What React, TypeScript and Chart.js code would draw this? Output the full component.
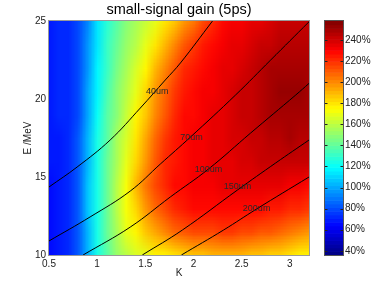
import React, { useEffect, useRef } from 'react';
import { Chart, registerables } from 'chart.js';

Chart.register(...registerables);

const FONT = "'Liberation Sans', Arial, Helvetica, sans-serif";

// Grid axes of the heat map
const kValues = [0.5, 0.6, 0.7, 0.8, 0.9, 1.0, 1.1, 1.2, 1.3, 1.4, 1.5, 1.6, 1.7, 1.8, 1.9, 2.0, 2.1, 2.2, 2.3, 2.4, 2.5, 2.6, 2.7, 2.8, 2.9, 3.0, 3.1, 3.2];
const eValues = [10, 11.5, 13, 14.5, 16, 17.5, 19, 20.5, 22, 23.5, 25];

// Small-signal gain (%) per E row, one value per K column
const gainE10 = [66, 68, 71, 82, 104, 124, 140, 152, 160, 166, 171, 175, 178, 181, 184, 186, 188, 189, 190, 190, 189, 188, 186, 184, 182, 180, 178, 176];
const gainE11_5 = [66, 68, 72, 83, 105, 125, 142, 157, 168, 178, 187, 195, 201, 206, 210, 213, 215, 216, 217, 217, 216, 214, 212, 210, 207, 204, 201, 198];
const gainE13 = [67, 69, 72, 84, 106, 126, 143, 159, 172, 185, 198, 208, 216, 221, 225, 227, 228, 229, 229, 229, 229, 228, 227, 226, 224, 222, 220, 218];
const gainE14_5 = [67, 69, 73, 84, 106, 126, 143, 159, 174, 189, 203, 214, 222, 227, 230, 231, 232, 233, 234, 234, 235, 235, 235, 235, 234, 233, 232, 230];
const gainE16 = [68, 70, 73, 83, 105, 125, 142, 157, 171, 185, 199, 211, 220, 226, 230, 232, 233, 234, 235, 237, 238, 240, 241, 242, 243, 243, 243, 242];
const gainE17_5 = [68, 70, 73, 82, 103, 123, 140, 154, 167, 180, 194, 207, 217, 225, 229, 231, 233, 234, 236, 238, 240, 242, 244, 246, 247, 248, 247, 246];
const gainE19 = [69, 71, 74, 81, 101, 121, 137, 150, 162, 175, 188, 201, 212, 221, 227, 230, 232, 234, 236, 238, 241, 244, 247, 249, 251, 251, 250, 249];
const gainE20_5 = [69, 71, 74, 80, 99, 119, 134, 147, 158, 170, 183, 196, 208, 218, 225, 229, 231, 233, 235, 238, 241, 244, 247, 250, 252, 253, 252, 250];
const gainE22 = [70, 72, 74, 80, 97, 117, 133, 144, 154, 165, 177, 189, 201, 212, 220, 226, 229, 231, 234, 237, 240, 243, 246, 248, 250, 251, 250, 249];
const gainE23_5 = [70, 72, 74, 79, 95, 115, 131, 142, 151, 160, 169, 179, 189, 200, 210, 218, 224, 228, 231, 234, 236, 239, 242, 244, 246, 247, 247, 246];
const gainE25 = [70, 72, 74, 78, 93, 113, 129, 140, 149, 157, 164, 171, 179, 188, 196, 205, 215, 223, 228, 231, 233, 235, 237, 239, 241, 242, 243, 243];
const heatRows = [gainE10, gainE11_5, gainE13, gainE14_5, gainE16, gainE17_5, gainE19, gainE20_5, gainE22, gainE23_5, gainE25];

// Contour lines (K, E)
const line40 = [
  { x: 0.5, y: 14.36 }, { x: 0.792, y: 15.64 }, { x: 1.135, y: 17.37 }, { x: 1.448, y: 19.42 },
  { x: 1.708, y: 21.22 }, { x: 1.865, y: 22.31 }, { x: 2.198, y: 25.0 },
];
const line70 = [
  { x: 0.5, y: 10.9 }, { x: 0.927, y: 12.44 }, { x: 1.344, y: 14.1 }, { x: 1.656, y: 15.83 },
  { x: 1.969, y: 17.56 }, { x: 2.438, y: 20.26 }, { x: 2.802, y: 22.5 }, { x: 3.2, y: 24.95 },
];
const line100 = [
  { x: 0.854, y: 10.0 }, { x: 1.344, y: 11.79 }, { x: 1.76, y: 13.72 }, { x: 2.156, y: 15.51 },
  { x: 2.594, y: 17.82 }, { x: 3.063, y: 20.26 }, { x: 3.2, y: 21.0 },
];
const line150 = [
  { x: 1.469, y: 10.0 }, { x: 1.885, y: 11.6 }, { x: 2.458, y: 14.17 }, { x: 2.854, y: 15.9 }, { x: 3.2, y: 17.37 },
];
const line200 = [
  { x: 1.875, y: 10.0 }, { x: 2.3125, y: 11.6 }, { x: 2.656, y: 12.95 }, { x: 3.2, y: 15.0 },
];
const contourLines = [line40, line70, line100, line150, line200];

const contourLabelTexts = ['40um', '70um', '100um', '150um', '200um'];
const contourLabelK = [1.625, 1.979, 2.156, 2.458, 2.656];
const contourLabelE = [20.45, 17.5, 15.51, 14.42, 13.01];

// Axes
const xTicks = [0.5, 1, 1.5, 2, 2.5, 3];
const yTicks = [10, 15, 20, 25];
const cbTicks = [40, 60, 80, 100, 120, 140, 160, 180, 200, 220, 240];
const cbMin = 36;
const cbMax = 258;
const cbLevels = 64;

function jet(v: number): [number, number, number] {
  let t = (v - cbMin) / (cbMax - cbMin);
  t = Math.min(1, Math.max(0, t));
  const idx = Math.min(cbLevels - 1, Math.floor(t * cbLevels));
  const q = (idx + 0.5) / cbLevels;
  const c = (x: number) => Math.round(255 * Math.min(1, Math.max(0, x)));
  return [c(1.5 - Math.abs(4 * q - 3)), c(1.5 - Math.abs(4 * q - 2)), c(1.5 - Math.abs(4 * q - 1))];
}

const heatmapPlugin = {
  id: 'heatmap',
  beforeDatasetsDraw(chart: any) {
    const { ctx, chartArea, scales } = chart;
    const xs = scales.x;
    const ys = scales.y;
    const cols = kValues.length;
    const rows = eValues.length;
    const off = document.createElement('canvas');
    off.width = cols;
    off.height = rows;
    const octx = off.getContext('2d')!;
    const img = octx.createImageData(cols, rows);
    for (let r = 0; r < rows; r++) {
      const row = heatRows[r];
      const py = rows - 1 - r;
      for (let c = 0; c < cols; c++) {
        const [R, G, B] = jet(row[c]);
        const i = (py * cols + c) * 4;
        img.data[i] = R;
        img.data[i + 1] = G;
        img.data[i + 2] = B;
        img.data[i + 3] = 255;
      }
    }
    octx.putImageData(img, 0, 0);
    const dk = (kValues[cols - 1] - kValues[0]) / (cols - 1);
    const de = (eValues[rows - 1] - eValues[0]) / (rows - 1);
    const x0 = xs.getPixelForValue(kValues[0] - dk / 2);
    const x1 = xs.getPixelForValue(kValues[cols - 1] + dk / 2);
    const y0 = ys.getPixelForValue(eValues[rows - 1] + de / 2);
    const y1 = ys.getPixelForValue(eValues[0] - de / 2);
    ctx.save();
    ctx.beginPath();
    ctx.rect(chartArea.left, chartArea.top, chartArea.right - chartArea.left, chartArea.bottom - chartArea.top);
    ctx.clip();
    ctx.imageSmoothingEnabled = true;
    ctx.drawImage(off, x0, y0, x1 - x0, y1 - y0);
    ctx.restore();
  },
  afterDatasetsDraw(chart: any) {
    const { ctx, chartArea, scales } = chart;
    const xs = scales.x;
    const ys = scales.y;
    ctx.save();
    ctx.font = `9px ${FONT}`;
    ctx.fillStyle = '#2a2a2a';
    ctx.textAlign = 'center';
    ctx.textBaseline = 'middle';
    for (let i = 0; i < contourLabelTexts.length; i++) {
      ctx.fillText(contourLabelTexts[i], xs.getPixelForValue(contourLabelK[i]), ys.getPixelForValue(contourLabelE[i]));
    }
    // axes box
    ctx.strokeStyle = '#999';
    ctx.lineWidth = 1;
    ctx.strokeRect(chartArea.left - 0.5, chartArea.top - 0.5, chartArea.right - chartArea.left + 1, chartArea.bottom - chartArea.top + 1);

    // colour bar
    const yc = scales.yc;
    const bx0 = chartArea.right + 16;
    const bx1 = chartArea.right + 34;
    const step = (cbMax - cbMin) / cbLevels;
    for (let i = 0; i < cbLevels; i++) {
      const lo = cbMin + i * step;
      const hi = lo + step;
      const [R, G, B] = jet(lo + step / 2);
      const yTop = yc.getPixelForValue(hi);
      const yBot = yc.getPixelForValue(lo);
      ctx.fillStyle = `rgb(${R},${G},${B})`;
      ctx.fillRect(bx0, yTop, bx1 - bx0, yBot - yTop + 0.6);
    }
    ctx.strokeStyle = '#555';
    ctx.strokeRect(bx0 - 0.5, yc.top - 0.5, bx1 - bx0 + 1, yc.bottom - yc.top + 1);
    ctx.strokeStyle = '#222';
    ctx.beginPath();
    for (const t of cbTicks) {
      const py = Math.round(yc.getPixelForValue(t)) + 0.5;
      ctx.moveTo(bx0, py);
      ctx.lineTo(bx0 + 2.5, py);
      ctx.moveTo(bx1 - 2.5, py);
      ctx.lineTo(bx1, py);
    }
    ctx.stroke();
    ctx.restore();
  },
};

const tickFont = { size: 10, family: FONT };

function fixSize(w: number | null, h: number | null) {
  return (s: any) => {
    if (w !== null) s.width = w;
    if (h !== null) s.height = h;
    s.paddingTop = 0;
    s.paddingBottom = 0;
    s.paddingLeft = 0;
    s.paddingRight = 0;
  };
}

export default function App() {
  const ref = useRef<HTMLCanvasElement>(null);
  useEffect(() => {
    const chart = new Chart(ref.current!, {
      type: 'scatter',
      data: {
        datasets: contourLines.map((pts) => ({
          data: pts,
          showLine: true,
          borderColor: '#000',
          borderWidth: 1,
          pointRadius: 0,
          tension: 0.4,
          fill: false,
        })),
      },
      options: {
        animation: false,
        responsive: false,
        devicePixelRatio: 1,
        events: [],
        layout: { padding: 0 },
        plugins: {
          legend: { display: false },
          tooltip: { enabled: false },
          title: {
            display: true,
            text: 'small-signal gain (5ps)',
            fullSize: false,
            color: '#000',
            font: { size: 14.5, family: FONT, weight: 'normal' },
            padding: { top: 1, bottom: 2.6 },
          },
        },
        scales: {
          x: {
            type: 'linear',
            min: 0.5,
            max: 3.2,
            afterBuildTicks: (s: any) => { s.ticks = xTicks.map((v) => ({ value: v })); },
            afterFit: fixSize(null, 32),
            grid: { display: false, drawTicks: false },
            border: { display: false },
            ticks: { padding: 3, font: tickFont, color: '#222', autoSkip: false, maxRotation: 0, callback: (v: any) => String(v) },
            title: { display: true, text: 'K', color: '#222', font: tickFont, padding: { top: 0, bottom: 8 } },
          },
          y: {
            type: 'linear',
            position: 'left',
            min: 10,
            max: 25,
            afterBuildTicks: (s: any) => { s.ticks = yTicks.map((v) => ({ value: v })); },
            afterFit: fixSize(49, null),
            grid: { display: false, drawTicks: false },
            border: { display: false },
            ticks: { padding: 3, font: tickFont, color: '#222', autoSkip: false, callback: (v: any) => String(v) },
            title: { display: true, text: 'E /MeV', color: '#222', font: tickFont, padding: { top: 22, bottom: 0 } },
          },
          yc: {
            type: 'linear',
            position: 'right',
            min: cbMin,
            max: cbMax,
            afterBuildTicks: (s: any) => { s.ticks = cbTicks.map((v) => ({ value: v })); },
            afterFit: fixSize(73, null),
            grid: { display: false, drawTicks: false },
            border: { display: false },
            ticks: { padding: 36, font: tickFont, color: '#222', autoSkip: false, callback: (v: any) => `${v}%` },
          },
        },
      } as any,
      plugins: [heatmapPlugin],
    });
    return () => chart.destroy();
  }, []);
  return (
    <div style={{ position: 'fixed', left: 0, top: 0, width: 382, height: 287, background: '#fff' }}>
      <canvas ref={ref} width={382} height={287} style={{ display: 'block', width: 382, height: 287 }} />
    </div>
  );
}
